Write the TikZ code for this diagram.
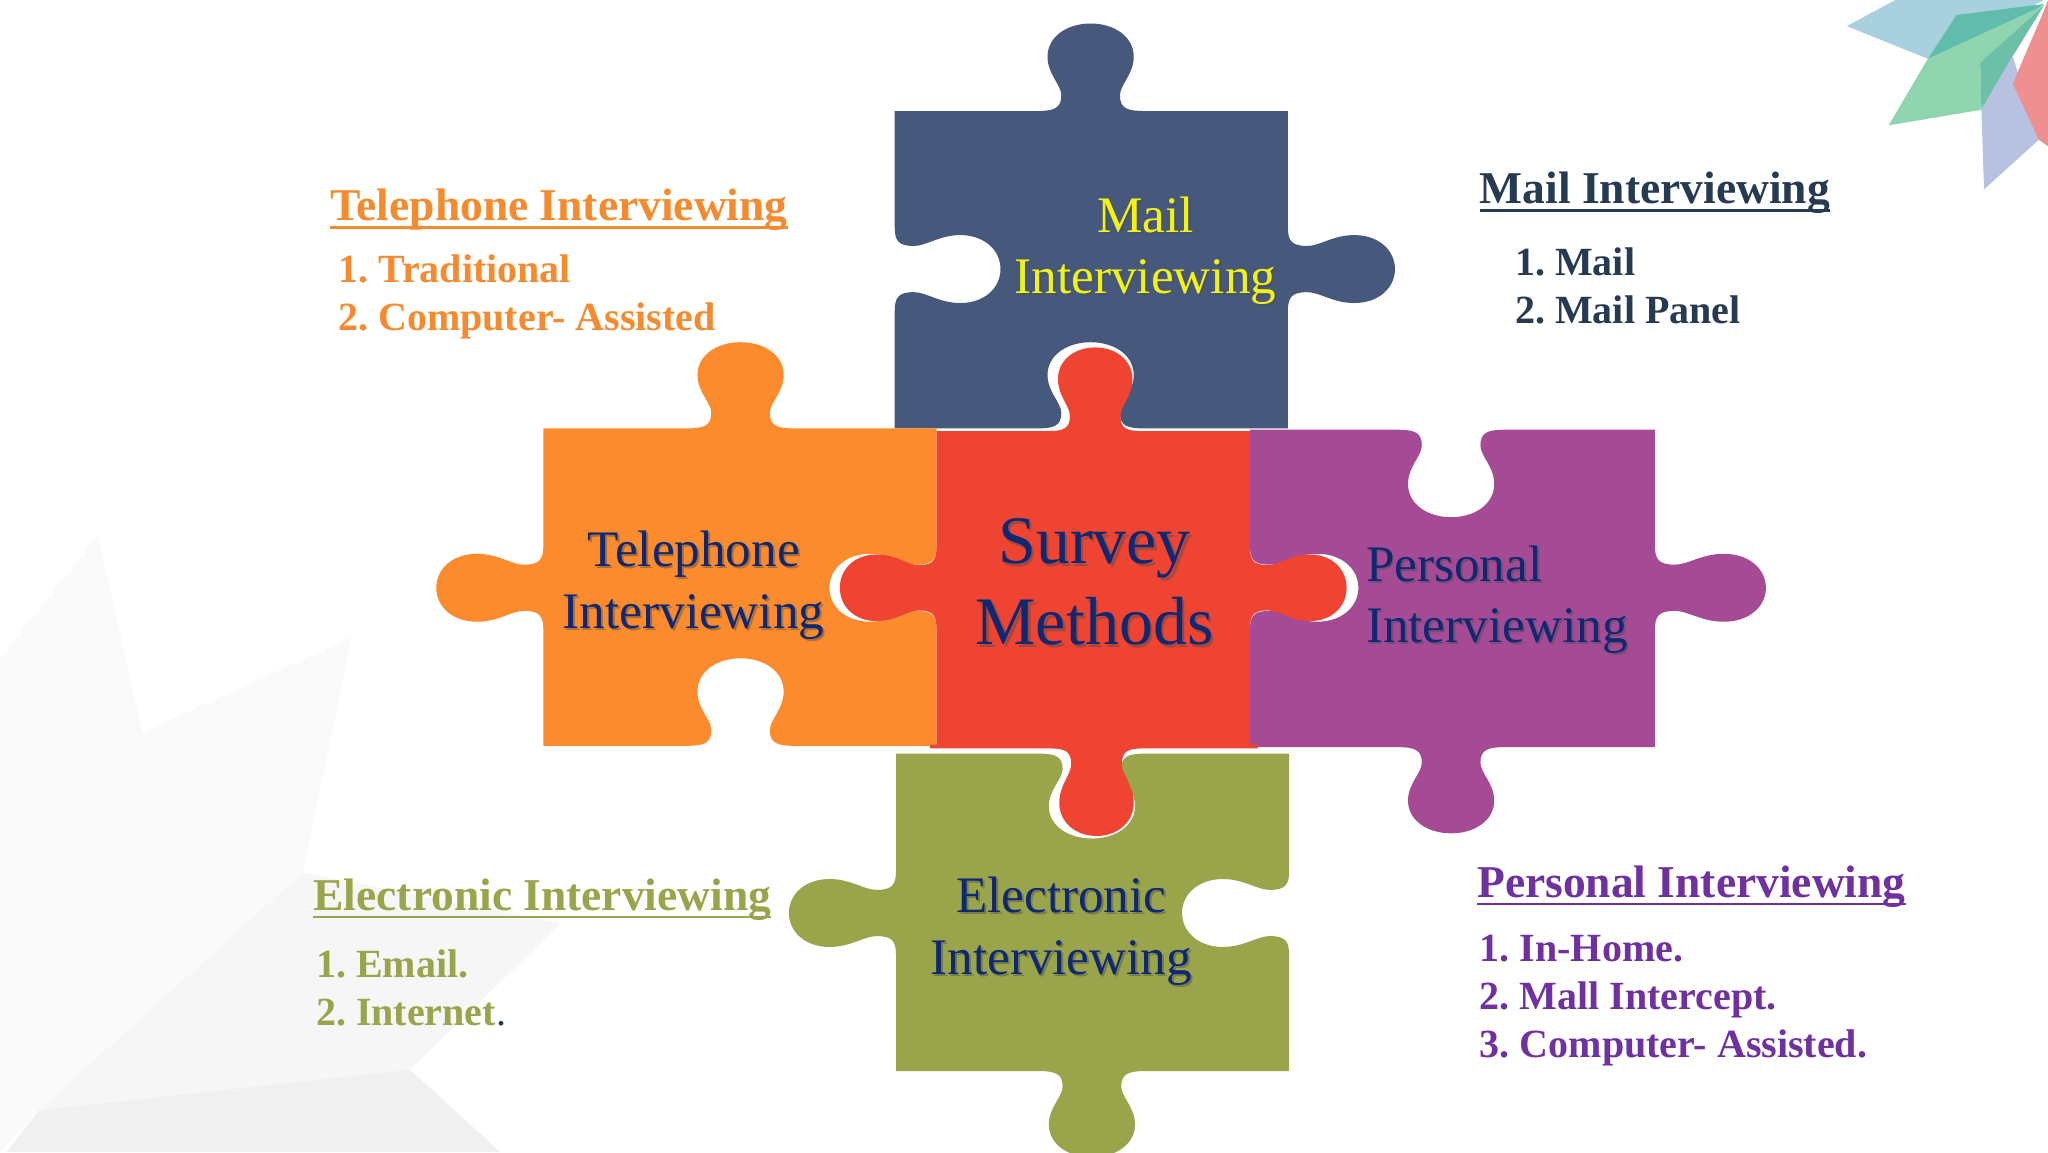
\documentclass[tikz,border=0pt]{standalone}
\usepackage{fontspec}
\setmainfont{Liberation Serif}
\frenchspacing
\definecolor{cblue}{HTML}{46597C}
\definecolor{corange}{HTML}{FB8B2D}
\definecolor{cred}{HTML}{F04433}
\definecolor{cpurple}{HTML}{A54A95}
\definecolor{cgreen}{HTML}{9AA44A}
\definecolor{navy}{HTML}{0F2872}
\definecolor{cyellow}{HTML}{F2F215}
\definecolor{horange}{HTML}{F58B2E}
\definecolor{hdark}{HTML}{263A52}
\definecolor{hpurple}{HTML}{6F30A0}
\definecolor{sa}{HTML}{A9D0DE}\definecolor{sb}{HTML}{62BCAC}\definecolor{sc}{HTML}{8FD6B0}
\definecolor{sd}{HTML}{6CC0A8}\definecolor{se}{HTML}{B6C2E0}\definecolor{sf}{HTML}{EE8F90}
\newcommand\vtab[4]{-- ({#1-1.25*(#3)},#2)
 .. controls ({#1-.85*(#3)},#2) and ({#1-.68*(#3)},{#2+.03*(#4)}) .. ({#1-.68*(#3)},{#2+.18*(#4)})
 .. controls ({#1-.68*(#3)},{#2+.3*(#4)}) and ({#1-(#3)},{#2+.42*(#4)}) .. ({#1-(#3)},{#2+.62*(#4)})
 .. controls ({#1-(#3)},{#2+.85*(#4)}) and ({#1-.55*(#3)},{#2+(#4)}) .. (#1,{#2+(#4)})
 .. controls ({#1+.55*(#3)},{#2+(#4)}) and ({#1+(#3)},{#2+.85*(#4)}) .. ({#1+(#3)},{#2+.62*(#4)})
 .. controls ({#1+(#3)},{#2+.42*(#4)}) and ({#1+.68*(#3)},{#2+.3*(#4)}) .. ({#1+.68*(#3)},{#2+.18*(#4)})
 .. controls ({#1+.68*(#3)},{#2+.03*(#4)}) and ({#1+.85*(#3)},#2) .. ({#1+1.25*(#3)},#2)}
\newcommand\htab[4]{-- (#2,{#1-1.25*(#3)})
 .. controls (#2,{#1-.85*(#3)}) and ({#2+.03*(#4)},{#1-.68*(#3)}) .. ({#2+.18*(#4)},{#1-.68*(#3)})
 .. controls ({#2+.3*(#4)},{#1-.68*(#3)}) and ({#2+.42*(#4)},{#1-(#3)}) .. ({#2+.62*(#4)},{#1-(#3)})
 .. controls ({#2+.85*(#4)},{#1-(#3)}) and ({#2+(#4)},{#1-.55*(#3)}) .. ({#2+(#4)},#1)
 .. controls ({#2+(#4)},{#1+.55*(#3)}) and ({#2+.85*(#4)},{#1+(#3)}) .. ({#2+.62*(#4)},{#1+(#3)})
 .. controls ({#2+.42*(#4)},{#1+(#3)}) and ({#2+.3*(#4)},{#1+.68*(#3)}) .. ({#2+.18*(#4)},{#1+.68*(#3)})
 .. controls ({#2+.03*(#4)},{#1+.68*(#3)}) and (#2,{#1+.85*(#3)}) .. (#2,{#1+1.25*(#3)})}
\tikzset{
  every node/.style={inner sep=0pt,outer sep=0pt},
  piecelabel/.style={align=center,font=\fontsize{25.6}{30.7}\selectfont,text=navy},
  bigl/.style={align=center,font=\fontsize{34}{40.5}\selectfont,text=navy},
  heading/.style={anchor=base west,font=\fontsize{22.75}{27}\selectfont\bfseries},
  item/.style={anchor=base west,font=\fontsize{20}{24}\selectfont\bfseries},
  rule/.style={line width=1.3pt},
  shadowtext/.style={text=black!70,opacity=.45},
}
\begin{document}
\begin{tikzpicture}[x=0.653061pt,y=-0.653061pt]
\useasboundingbox (0,0) rectangle (1568,882);
\fill[white] (0,0) rectangle (1568,882);
% background petals
\fill[black!2] (75,410) -- (0,504) -- (0,882) -- (30,850) -- (120,640) -- (109,561) -- cycle;
\fill[black!2] (269,488) -- (109,561) -- (120,640) -- (30,850) -- (232,668) -- cycle;
\fill[black!3.5] (232,668) -- (429,707) -- (314,819) -- (30,850) -- cycle;
\fill[black!6] (314,819) -- (383,882) -- (5,882) -- (30,850) -- cycle;
% corner star
\fill[sa] (1414,20) -- (1451,0) -- (1565,0) -- (1476,45) -- cycle;
\fill[sb] (1498,11.5) -- (1565,3) -- (1516,40) -- (1476,45) -- cycle;
\fill[sc] (1476,45) -- (1565,4) -- (1516,48) -- (1517,84) -- (1446,96) -- cycle;
\fill[sd] (1565,4) -- (1516,48) -- (1517,84) -- (1541,43) -- cycle;
\fill[se] (1517,84) -- (1541,43) -- (1561,107) -- (1519,145) -- cycle;
\fill[sf] (1565,8) -- (1568,0) -- (1568,112) -- (1561,107) -- (1541,64) -- cycle;
% puzzle pieces
\fill[cblue] (685,85) \vtab{835}{85}{33}{-67} -- (986,85) \htab{206}{986}{26}{82} -- (986,328)
  \vtab{835}{328}{-33}{-66} -- (685,328) \htab{206}{685}{-26}{81} -- cycle;
\fill[cgreen] (686,577) \vtab{836}{577}{33}{65} -- (987,577) \htab{699}{987}{26}{-82} -- (987,820)
  \vtab{836}{820}{-33}{66} -- (686,820) \htab{699}{686}{-26}{-82} -- cycle;
\fill[corange] (416,328) \vtab{567}{328}{33}{-66} -- (717,328) \htab{450}{717}{26}{-82} -- (717,571)
  \vtab{567}{571}{-33}{-67} -- (416,571) \htab{450}{416}{-26}{-82} -- cycle;
\fill[cpurple] (957,329) \vtab{1111}{329}{33}{67} -- (1267,329) \htab{450}{1267}{26}{85} -- (1267,572)
  \vtab{1111}{572}{-33}{66} -- (957,572) \htab{450}{957}{-26}{83} -- cycle;
\fill[cred] (717,330) \vtab{838.5}{330}{28.5}{-64} -- (957,330) \htab{450}{957}{25.5}{74} -- (957,570) -- (963,570) -- (963,573)
  \vtab{839.5}{573}{-28.5}{67} -- (712,573) -- (712,570) -- (717,570) \htab{450}{717}{-25.5}{-74} -- cycle;
% piece labels
\node[piecelabel,shadowtext] at (878.5,193.5) {Mail\\Interviewing};
\node[piecelabel,text=cyellow] (mail) at (877,192) {Mail\\Interviewing};
\node[piecelabel,shadowtext] at (532.5,449.5) {Telephone\\Interviewing};
\node[piecelabel] (tel) at (531,448) {Telephone\\Interviewing};
\node[bigl,shadowtext] at (840,447.5) {Survey\\Methods};
\node[bigl] (survey) at (838,445.5) {Survey\\Methods};
\node[piecelabel,shadowtext,align=left] at (1147.5,460.5) {Personal\\Interviewing};
\node[piecelabel,align=left] (pers) at (1146,459) {Personal\\Interviewing};
\node[piecelabel,shadowtext] at (814,714.5) {Electronic\\Interviewing};
\node[piecelabel] (elec) at (812.5,713) {Electronic\\Interviewing};
% side lists
\node[heading,text=horange] (h1) at (253,169) {Telephone Interviewing};
\draw[rule,horange] ([yshift=-3.4]h1.base west) -- ([yshift=-3.4]h1.base east);
\node[item,text=horange] (t1) at (259,216) {1. Traditional};
\node[item,text=horange] (t2) at (259,253) {2. Computer- Assisted};
\node[heading,text=hdark] (h2) at (1133,156) {Mail Interviewing};
\draw[rule,hdark] ([yshift=-3.4]h2.base west) -- ([yshift=-3.4]h2.base east);
\node[item,text=hdark] (m1) at (1160,211) {1. Mail};
\node[item,text=hdark] (m2) at (1160,248) {2. Mail Panel};
\node[heading,text=cgreen] (h3) at (240,697) {Electronic Interviewing};
\draw[rule,cgreen] ([yshift=-3.4]h3.base west) -- ([yshift=-3.4]h3.base east);
\node[item,text=cgreen] (e1) at (242,748) {1. Email.};
\node[item,text=cgreen] (e2) at (242,785) {2. Internet\textcolor{hdark}{\mdseries .}};
\node[heading,text=hpurple] (h4) at (1131,687) {Personal Interviewing};
\draw[rule,hpurple] ([yshift=-3.4]h4.base west) -- ([yshift=-3.4]h4.base east);
\node[item,text=hpurple] (p1) at (1133,736) {1. In-Home.};
\node[item,text=hpurple] (p2) at (1133,773) {2. Mall Intercept.};
\node[item,text=hpurple] (p3) at (1133,810) {3. Computer- Assisted.};
\end{tikzpicture}
\end{document}
